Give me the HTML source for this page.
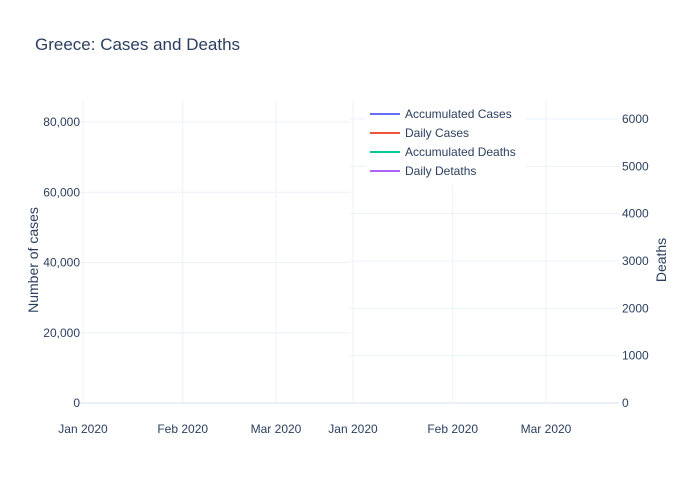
<!DOCTYPE html>
<html><head><meta charset="utf-8"><style>
body{margin:0;background:#fff}
svg{font-family:"Liberation Sans",sans-serif;display:block}
</style></head><body>
<svg id="c" width="700" height="500"></svg>
<script>
const leftTicks=[0,20000,40000,60000,80000];
const leftTickLabels=["0","20,000","40,000","60,000","80,000"];
const rightTicks=[0,1000,2000,3000,4000,5000,6000];
const xTickLabels=["Jan 2020","Feb 2020","Mar 2020"];
const xTickDays=[0,31,60];
const accumulatedCases=[];
const dailyCases=[];
const accumulatedDeaths=[];
const dailyDeaths=[];
const seriesNames=["Accumulated Cases","Daily Cases","Accumulated Deaths","Daily Detaths"];
const seriesColors=["#636efa","#EF553B","#00cc96","#ab63fa"];

const NS="http://www.w3.org/2000/svg";
const svg=document.getElementById('c');
function mk(t,a,txt){const e=document.createElementNS(NS,t);for(const k in a)e.setAttribute(k,a[k]);if(txt!==undefined)e.textContent=txt;svg.appendChild(e);return e;}
const yL=v=>403-v*(281/80000);
const yR=v=>403-v*(284/6000);
const xL=d=>83+d*(193/60);
const xR=d=>353+d*(193/60);

let t=mk('text',{x:35,y:50,'font-size':17,fill:'#2a3f5f'},'Greece: Cases and Deaths');


// left grid
xTickDays.forEach((d,i)=>{const x=xL(d);
 const g=mk('line',{x1:x,x2:x,y1:100,y2:403,stroke:'#ebf0f8','stroke-width':1});
 
 const l=mk('text',{x:x,y:433,'font-size':12,fill:'#2a3f5f','text-anchor':'middle'},xTickLabels[i]);
 });
leftTicks.forEach((v,i)=>{const y=yL(v);
 const g=mk('line',{x1:80,x2:350,y1:y,y2:y,stroke:v===0?'#ebf0f8':'#ebf0f8','stroke-width':v===0?2:1});
 
 const l=mk('text',{x:80,y:y+4,'font-size':12,fill:'#2a3f5f','text-anchor':'end'},leftTickLabels[i]);
 });
// right grid
xTickDays.forEach((d,i)=>{const x=xR(d);
 const g=mk('line',{x1:x,x2:x,y1:100,y2:403,stroke:'#ebf0f8','stroke-width':1});
 
 const l=mk('text',{x:x,y:433,'font-size':12,fill:'#2a3f5f','text-anchor':'middle'},xTickLabels[i]);
 });
rightTicks.forEach(v=>{const y=yR(v);
 const g=mk('line',{x1:350,x2:619,y1:y,y2:y,stroke:'#ebf0f8','stroke-width':v===0?2:1});
 
 const l=mk('text',{x:622,y:y+4,'font-size':12,fill:'#2a3f5f'},String(v));
 });

// series (empty data)
function line(arr,xf,yf,color,name){if(!arr.length)return;
 const p=mk('polyline',{points:arr.map((v,i)=>xf(i)+','+yf(v)).join(' '),fill:'none',stroke:color,'stroke-width':2});
 }
line(accumulatedCases,xL,yL,seriesColors[0],'accumulated-cases-line');
line(dailyCases,xL,yL,seriesColors[1],'daily-cases-line');
line(accumulatedDeaths,xR,yR,seriesColors[2],'accumulated-deaths-line');
line(dailyDeaths,xR,yR,seriesColors[3],'daily-deaths-line');

// axis titles
let a=mk('text',{x:0,y:0,'font-size':14,fill:'#2a3f5f','text-anchor':'middle',transform:'translate(38,260) rotate(-90)'},'Number of cases');

a=mk('text',{x:0,y:0,'font-size':14,fill:'#2a3f5f','text-anchor':'middle',transform:'translate(666,260) rotate(-90)'},'Deaths');


// legend
const lb=mk('rect',{x:365,y:100,width:161,height:86,fill:'#fff'});

seriesNames.forEach((n,i)=>{const y=114+i*19;
 const s=mk('line',{x1:370,x2:400,y1:y,y2:y,stroke:seriesColors[i],'stroke-width':2});
 
 const l=mk('text',{x:405,y:y+4,'font-size':12,fill:'#2a3f5f'},n);
 });
</script>
</body></html>
